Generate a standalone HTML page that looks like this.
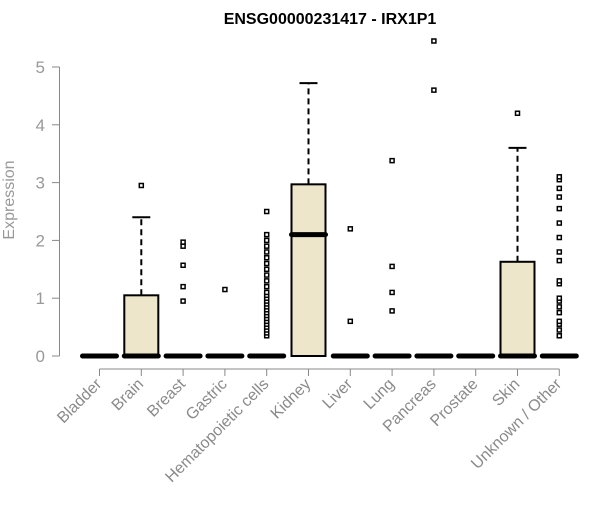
<!DOCTYPE html>
<html><head><meta charset="utf-8"><style>
body{margin:0;background:#fff;}
svg text{font-family:"Liberation Sans",sans-serif;}
</style></head><body>
<svg id="chart" width="600" height="500" xmlns="http://www.w3.org/2000/svg">
<text x="330" y="24" text-anchor="middle" font-weight="bold" font-size="16">ENSG00000231417 - IRX1P1</text>
<text transform="translate(14,200) rotate(-90)" text-anchor="middle" font-size="16" fill="#999">Expression</text>
<g id="yaxis"></g>
<g id="xaxis"></g>
<g id="boxes"></g>
</svg>
<script>
const categories=["Bladder","Brain","Breast","Gastric","Hematopoietic cells","Kidney","Liver","Lung","Pancreas","Prostate","Skin","Unknown / Other"];
const q1=[0,0,0,0,0,0,0,0,0,0,0,0];
const medians=[0,0,0,0,0,2.1,0,0,0,0,0,0];
const q3=[0,1.05,0,0,0,2.97,0,0,0,0,1.63,0];
const whiskerHi=[0,2.4,0,0,0,4.72,0,0,0,0,3.6,0];
const outliers=[[],[2.95],[0.95,1.2,1.57,1.9,1.97],[1.15],
[0.35,0.4,0.45,0.5,0.55,0.6,0.65,0.7,0.75,0.8,0.85,0.9,0.95,1.0,1.05,1.1,1.2,1.3,1.4,1.5,1.6,1.7,1.8,1.9,2.0,2.1,2.5],
[],[0.6,2.2],[0.78,1.1,1.55,3.38],[4.6,5.45],[],[4.2],
[0.35,0.45,0.55,0.6,0.75,0.85,0.95,1.0,1.25,1.3,1.65,1.8,2.05,2.3,2.55,2.75,2.9,3.05,3.1]];
const yTicks=[0,1,2,3,4,5];
const NS="http://www.w3.org/2000/svg";
const y=v=>356-v*57.8;
const x=i=>99.5+i*41.8;
function mk(p,t,a){const e=document.createElementNS(NS,t);for(const k in a)e.setAttribute(k,a[k]);p.appendChild(e);return e;}
const ya=document.getElementById('yaxis');
const xa=document.getElementById('xaxis');
const bx=document.getElementById('boxes');
let l=mk(ya,'line',{x1:59.5,x2:59.5,y1:y(5),y2:y(0),stroke:'#888'});


yTicks.forEach(t=>{
 let tk=mk(ya,'line',{x1:52,x2:59.5,y1:y(t),y2:y(t),stroke:'#888'});
 
 
 let tx=mk(ya,'text',{x:45,y:y(t)+6,'text-anchor':'end','font-size':17,fill:'#999'});
 tx.textContent=t;
 
 
});
let xl=mk(xa,'line',{x1:x(0),x2:x(11),y1:369,y2:369,stroke:'#888'});


categories.forEach((c,i)=>{
 let tk=mk(xa,'line',{x1:x(i),x2:x(i),y1:369,y2:376,stroke:'#888'});
 
 
 let tx=mk(xa,'text',{transform:`translate(${x(i)+3},${385}) rotate(-45)`,'text-anchor':'end','font-size':16,fill:'#8a8a8a'});
 tx.textContent=c;
 
 
 const g=mk(bx,'g',{});
 
 
 const w=34,cx=x(i);
 if(whiskerHi[i]>q3[i]){
  mk(g,'line',{x1:cx,x2:cx,y1:y(q3[i]),y2:y(whiskerHi[i]),stroke:'#000','stroke-width':2,'stroke-dasharray':'6,4'});
  mk(g,'line',{x1:cx-9,x2:cx+9,y1:y(whiskerHi[i]),y2:y(whiskerHi[i]),stroke:'#000','stroke-width':2});
 }
 if(q3[i]>q1[i]) mk(g,'rect',{x:cx-w/2,y:y(q3[i]),width:w,height:y(q1[i])-y(q3[i]),fill:'#ede6cb',stroke:'#000','stroke-width':2});
 mk(g,'line',{x1:cx-w/2,x2:cx+w/2,y1:y(medians[i]),y2:y(medians[i]),stroke:'#000','stroke-width':5,'stroke-linecap':'round'});
 outliers[i].forEach(v=>{
  let p=mk(g,'rect',{x:cx-2,y:y(v)-2,width:4,height:4,fill:'#fff',stroke:'#000','stroke-width':1.5});
  
  
 });
});
</script>
</body></html>
